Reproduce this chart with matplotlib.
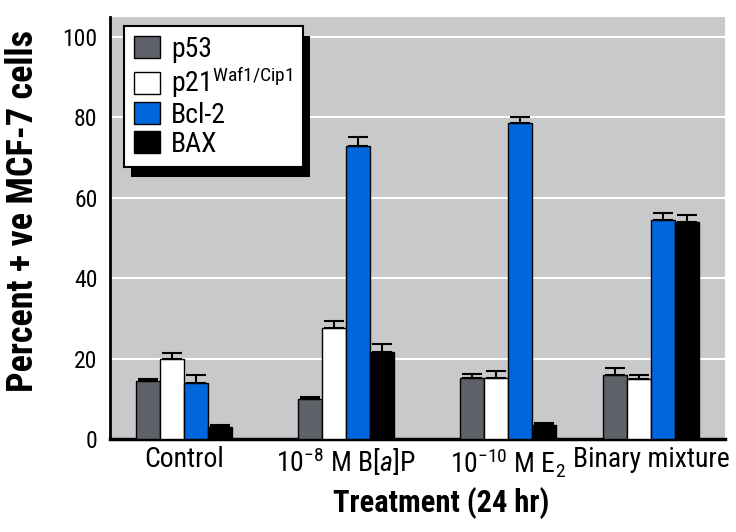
import matplotlib
matplotlib.use("Agg")
import matplotlib.pyplot as plt
from matplotlib.patches import Rectangle
from matplotlib import font_manager
import numpy as np

# ---- data ----
groups = ["Control", r"$10^{-8}$ M B[$\mathit{a}$]P", r"$10^{-10}$ M E$_2$", "Binary mixture"]
series = ["p53", r"p21$^{\mathrm{Waf1/Cip1}}$", "Bcl-2", "BAX"]
p53 = [14.5, 10.0, 15.3, 16.0]
p53_err = [0.5, 0.4, 0.8, 1.6]
p21 = [19.8, 27.7, 15.1, 15.0]
p21_err = [1.6, 1.6, 1.8, 0.9]
bcl2 = [14.0, 73.0, 78.6, 54.5]
bcl2_err = [2.0, 2.1, 1.5, 1.8]
bax = [2.9, 21.7, 3.6, 53.9]
bax_err = [0.6, 1.9, 0.5, 1.9]
yticks = [0, 20, 40, 60, 80, 100]

colors = ["#5e6167", "#ffffff", "#0066dc", "#000000"]
values = [p53, p21, bcl2, bax]
errors = [p53_err, p21_err, bcl2_err, bax_err]

available = {f.name for f in font_manager.fontManager.ttflist}
pref = ["Liberation Sans Narrow", "DejaVu Sans Condensed", "Roboto Condensed",
        "Open Sans Condensed", "Noto Sans Condensed", "Roboto"]
main = next((p for p in pref if p in available), "DejaVu Sans")
fam = [main, "DejaVu Sans"]
plt.rcParams["font.family"] = fam
plt.rcParams["mathtext.fontset"] = "custom"
plt.rcParams["mathtext.rm"] = main
plt.rcParams["mathtext.it"] = main + ":italic"
plt.rcParams["mathtext.bf"] = main + ":bold"

fig = plt.figure(figsize=(7.36, 5.32), dpi=100)
ax = fig.add_axes([110 / 736, 1 - 439 / 532, 615 / 736, 422 / 532])
ax.set_facecolor("#c8c9cb")

# group layout (unequal spacing as in the original)
centers = np.array([0.0, 1.0, 2.0, 2.885])
width = 0.148
offsets = (np.arange(4) - 1.5) * width

for i in range(4):
    ax.bar(centers + offsets[i], values[i], width, color=colors[i],
           edgecolor="black", linewidth=1.0, label=series[i], zorder=3,
           yerr=[np.zeros(4), errors[i]],
           error_kw=dict(ecolor="black", elinewidth=1.5, capsize=7, capthick=1.5, zorder=4))

ax.set_xlim(-0.457, 3.34)
ax.set_ylim(0, 105)
ax.set_yticks(yticks)
ax.set_yticklabels([str(v) for v in yticks], fontsize=17)
ax.set_xticks(centers)
ax.set_xticklabels(groups, fontsize=20)
ax.tick_params(axis="both", length=0)
ax.tick_params(axis="y", pad=9)
ax.tick_params(axis="x", pad=5)
ax.yaxis.grid(True, color="white", linewidth=1.5, zorder=1)
ax.set_axisbelow(True)
for s in ["top", "right"]:
    ax.spines[s].set_visible(False)
ax.spines["left"].set_linewidth(2)
ax.spines["bottom"].set_linewidth(2.5)

ax.set_ylabel("Percent + ve MCF-7 cells", fontsize=26, fontweight="bold")
ax.yaxis.set_label_coords(-0.113, 0.54)
ax.set_xlabel("Treatment (24 hr)", fontsize=22, fontweight="bold")
ax.xaxis.set_label_coords((441 - 110) / 615, -0.115)

leg = ax.legend(loc="upper left", bbox_to_anchor=(14 / 615, 1 - 9 / 422),
                fontsize=20, frameon=True, fancybox=False, borderaxespad=0,
                handlelength=0.95, handleheight=0.85, handletextpad=0.4,
                labelspacing=0.06, borderpad=0.35, framealpha=1)
leg.get_frame().set_edgecolor("black")
leg.get_frame().set_facecolor("white")
leg.get_frame().set_linewidth(1.5)
leg.set_zorder(10)

fig.canvas.draw()
bb = leg.get_window_extent()
inv = fig.transFigure.inverted()
(x0, y0), (x1, y1) = inv.transform([[bb.x0 + 7, bb.y0 - 10], [bb.x1 + 7, bb.y1 - 10]])
shadow = Rectangle((x0, y0), x1 - x0, y1 - y0, transform=fig.transFigure,
                   facecolor="black", edgecolor="none", zorder=9)
ax.add_artist(shadow)
shadow.set_clip_on(False)

fig.savefig("out.png", dpi=100)
